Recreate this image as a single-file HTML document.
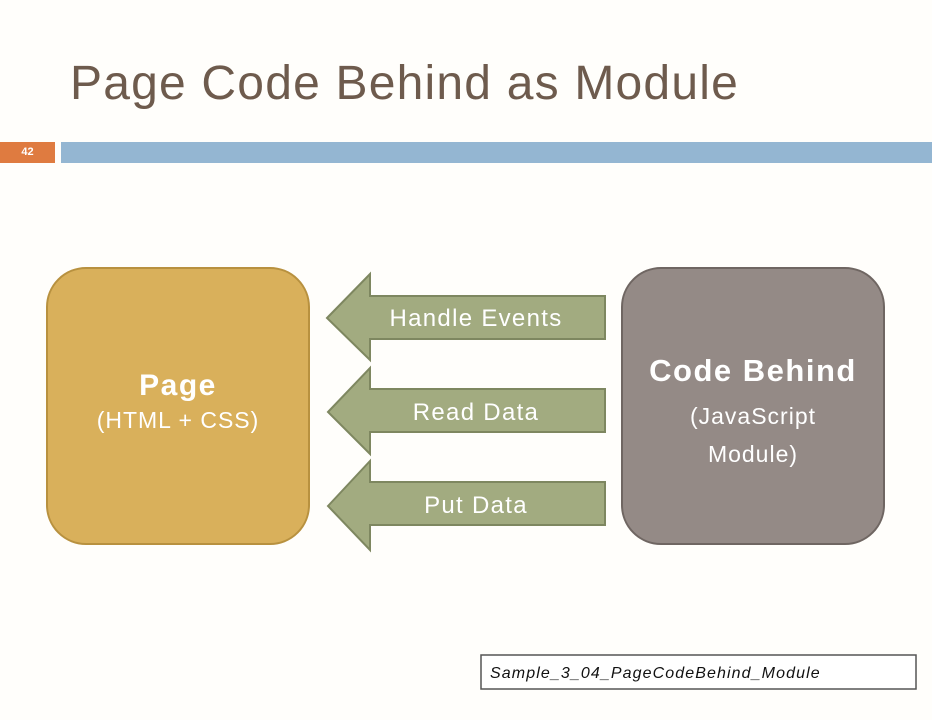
<!DOCTYPE html>
<html><head><style>
body{margin:0;width:932px;height:720px;background:#fffefb;position:relative;overflow:hidden;font-family:"Liberation Sans",sans-serif}
.t{position:absolute;left:70px;top:56px;font-size:48px;color:#6e5b4d;letter-spacing:1.2px}
.box{position:absolute;top:267px;width:264px;height:278px;border-radius:40px;box-sizing:border-box;color:#fff;text-align:center}
</style></head><body>
<div class="t">Page Code Behind as Module</div>
<div style="position:absolute;left:0;top:142px;width:55px;height:21px;background:#df7b40;color:#fff;font-size:11px;font-weight:bold;line-height:21px;text-align:center">42</div>
<div style="position:absolute;left:61px;top:142px;width:871px;height:21px;background:#94b6d2"></div>
<div class="box" style="left:46px;background:#d9b05b;border:2px solid #b8913f">
<div style="margin-top:100px;font-size:30px;font-weight:bold;letter-spacing:1.5px">Page</div>
<div style="font-size:23px;margin-top:4px;letter-spacing:1px">(HTML + CSS)</div></div>
<div class="box" style="left:621px;background:#948a86;border:2px solid #6f6662">
<div style="margin-top:84px;font-size:31px;font-weight:bold;letter-spacing:1.5px">Code Behind</div>
<div style="font-size:23px;margin-top:8px;line-height:38px;letter-spacing:1px">(JavaScript<br>Module)</div></div>
<svg width="932" height="720" style="position:absolute;left:0;top:0">
<g fill="#a2ab80" stroke="#7e8760" stroke-width="2">
<polygon points="327,318 370,274 370,296 605,296 605,339 370,339 370,360"/>
<polygon points="328,412 370,368 370,389 605,389 605,432 370,432 370,454"/>
<polygon points="328,506 370,461 370,482 605,482 605,525 370,525 370,550"/>
</g>
<g fill="#fff" font-family="Liberation Sans" font-size="24" text-anchor="middle" letter-spacing="1.3">
<text x="476" y="326">Handle Events</text>
<text x="476" y="420">Read Data</text>
<text x="476" y="513">Put Data</text>
</g>
<rect x="481" y="655" width="435" height="34" fill="#fff" stroke="#555" stroke-width="1.5"/>
<text x="490" y="678" font-family="Liberation Sans" font-size="16" font-style="italic" fill="#111" letter-spacing="1.1">Sample_3_04_PageCodeBehind_Module</text>
</svg>
</body></html>
